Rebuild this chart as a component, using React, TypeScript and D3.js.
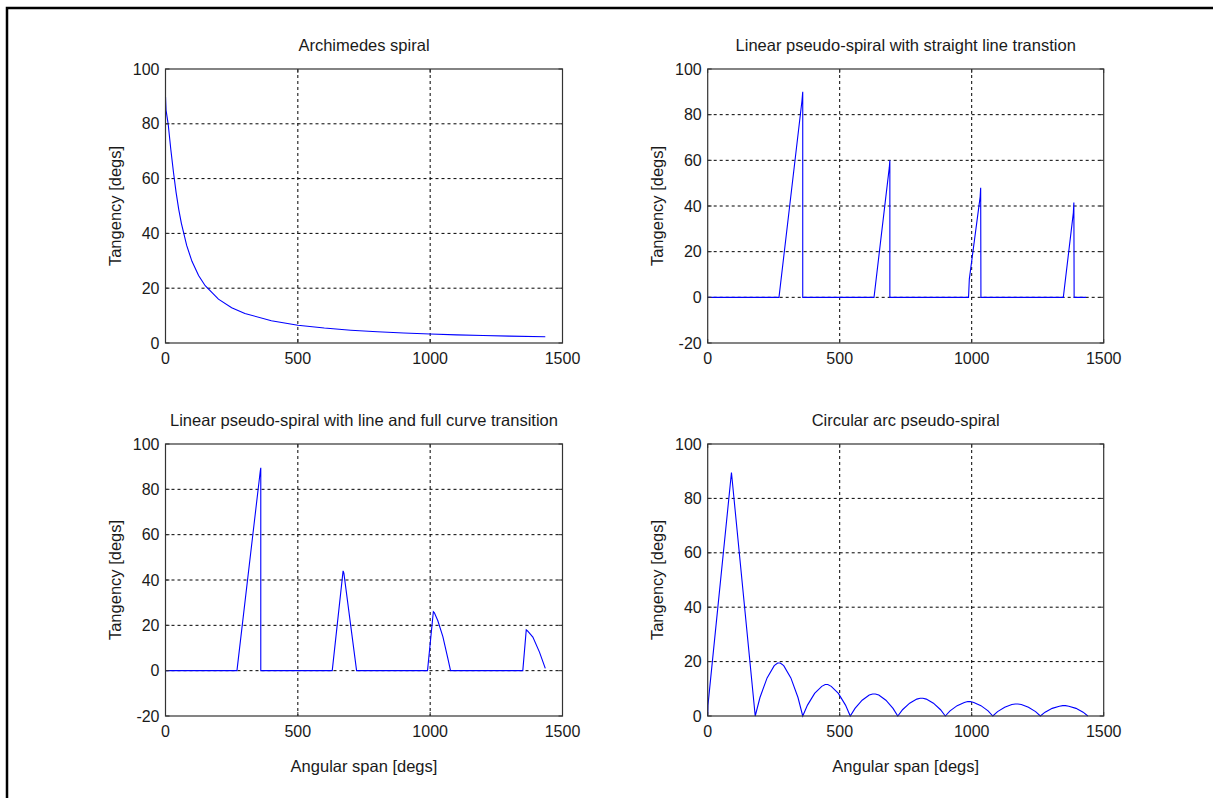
import React from "react";
import * as d3 from "d3";

// ---------- data ----------
const xTicks = [0, 500, 1000, 1500];
const yTicksPos = [0, 20, 40, 60, 80, 100];
const yTicksNeg = [-20, 0, 20, 40, 60, 80, 100];

const titles = [
  "Archimedes spiral",
  "Linear pseudo-spiral with straight line transtion",
  "Linear pseudo-spiral with line and full curve transition",
  "Circular arc pseudo-spiral",
];
const yLabel = "Tangency [degs]";
const xLabel = "Angular span [degs]";

const archimedes: [number, number][] = [
  [0, 90], [2, 85], [10, 80], [20, 70.7], [30, 62.4], [40, 55], [50, 48.8], [60, 43.7],
  [80, 35.6], [100, 29.8], [125, 24.6], [150, 20.9], [200, 16], [250, 12.9],
  [300, 10.8], [400, 8.1], [500, 6.5], [600, 5.45], [700, 4.68], [800, 4.09],
  [900, 3.64], [1000, 3.28], [1100, 2.98], [1200, 2.73], [1300, 2.52], [1435, 2.3],
];

const straightTransition: [number, number][] = [
  [0, 0], [270, 0], [357, 86], [360, 90], [360, 0],
  [630, 0], [688, 57], [690, 60], [690, 0],
  [988, 0], [991, 8], [1032, 44], [1034, 48], [1035, 0],
  [1347, 0], [1385, 37], [1387, 41.5], [1388, 0], [1433, 0],
];

const curveTransition: [number, number][] = [
  [0, 0], [270, 0], [358, 88], [360, 89.5], [360, 0],
  [630, 0], [671, 44], [674, 43], [722, 0],
  [990, 0], [1012, 26], [1016, 25.5], [1029, 22], [1048, 15], [1067, 5.3], [1077, 0],
  [1350, 0], [1363, 18], [1368, 17.5], [1388, 14.8], [1413, 8.2], [1435, 1],
];

const circularArc: [number, number][] = [
  [0, 0], [1, 4], [90, 89.5], [180, 0],
  [198, 6.8], [225, 14], [252, 18.5], [265, 19.5], [275, 19.5], [288, 18.5], [315, 14], [342, 6.8], [360, 0],
  [378, 4], [405, 8.3], [432, 10.9], [445, 11.6], [455, 11.6], [468, 10.9], [495, 8.3], [522, 4], [540, 0],
  [558, 2.8], [585, 5.8], [612, 7.7], [625, 8.1], [635, 8.1], [648, 7.7], [675, 5.8], [702, 2.8], [720, 0],
  [738, 2.3], [765, 4.7], [792, 6.2], [805, 6.5], [815, 6.5], [828, 6.2], [855, 4.7], [882, 2.3], [900, 0],
  [918, 1.9], [945, 3.8], [972, 5.0], [985, 5.3], [995, 5.3], [1008, 5.0], [1035, 3.8], [1062, 1.9], [1080, 0],
  [1098, 1.6], [1125, 3.2], [1152, 4.2], [1165, 4.4], [1175, 4.4], [1188, 4.2], [1215, 3.2], [1242, 1.6], [1260, 0],
  [1278, 1.4], [1305, 2.8], [1332, 3.6], [1345, 3.8], [1355, 3.8], [1368, 3.6], [1395, 2.8], [1422, 1.4], [1440, 0],
];

// ---------- layout ----------
const W = 1213;
const H = 798;
const FONT = "'Liberation Sans', Arial, Helvetica, sans-serif";

type PanelSpec = {
  title: string;
  data: [number, number][];
  yDomain: [number, number];
  yTicks: number[];
  left: number;
  top: number;
  width: number;
  height: number;
  showX: boolean;
};

const colL = 165.5, colR = 707.7, pw = 397;
const rowT = 69, rowB = 444, ph = 273;

const panels: PanelSpec[] = [
  { title: titles[0], data: archimedes, yDomain: [0, 100], yTicks: yTicksPos, left: colL, top: rowT, width: pw, height: 274, showX: false },
  { title: titles[1], data: straightTransition, yDomain: [-20, 100], yTicks: yTicksNeg, left: colR, top: rowT, width: pw - 1, height: 274, showX: false },
  { title: titles[2], data: curveTransition, yDomain: [-20, 100], yTicks: yTicksNeg, left: colL, top: rowB, width: pw, height: ph - 1, showX: true },
  { title: titles[3], data: circularArc, yDomain: [0, 100], yTicks: yTicksPos, left: colR, top: rowB, width: pw - 1, height: ph - 1, showX: true },
];

function Panel({ p }: { p: PanelSpec }) {
  const x = d3.scaleLinear().domain([0, 1500]).range([p.left, p.left + p.width]);
  const y = d3.scaleLinear().domain(p.yDomain).range([p.top + p.height, p.top]);
  const line = d3.line<[number, number]>().x((d) => x(d[0])).y((d) => y(d[1]));
  const x0 = p.left, x1 = p.left + p.width, y0 = p.top, y1 = p.top + p.height;
  const tickLen = 4;
  const gridStyle = { stroke: "#000", strokeWidth: 1, strokeDasharray: "3,3" };
  return (
    <g>
      {xTicks.slice(1, -1).map((t) => (
        <line key={"gx" + t} x1={x(t)} x2={x(t)} y1={y0} y2={y1} {...gridStyle} />
      ))}
      {p.yTicks.slice(1, -1).map((t) => (
        <line key={"gy" + t} x1={x0} x2={x1} y1={y(t)} y2={y(t)} {...gridStyle} />
      ))}
      <path d={line(p.data) || ""} fill="none" stroke="#0000ff" strokeWidth={1.1} />
      {xTicks.map((t) => (
        <g key={"tx" + t}>
          <line x1={x(t)} x2={x(t)} y1={y1} y2={y1 - tickLen} stroke="#333" />
          <line x1={x(t)} x2={x(t)} y1={y0} y2={y0 + tickLen} stroke="#333" />
        </g>
      ))}
      {p.yTicks.map((t) => (
        <g key={"ty" + t}>
          <line x1={x0} x2={x0 + tickLen} y1={y(t)} y2={y(t)} stroke="#333" />
          <line x1={x1} x2={x1 - tickLen} y1={y(t)} y2={y(t)} stroke="#333" />
        </g>
      ))}
      <rect x={x0} y={y0} width={p.width} height={p.height} fill="none" stroke="#333" strokeWidth={1.2} />
      {xTicks.map((t) => (
        <text key={"lx" + t} x={x(t)} y={y1 + 21} textAnchor="middle" fontSize={16} fill="#1a1a1a" fontFamily={FONT}>
          {t}
        </text>
      ))}
      {p.yTicks.map((t) => (
        <text key={"ly" + t} x={x0 - 6} y={y(t) + 5.5} textAnchor="end" fontSize={16} fill="#1a1a1a" fontFamily={FONT}>
          {t}
        </text>
      ))}
      <text x={(x0 + x1) / 2} y={y0 - 18} textAnchor="middle" fontSize={16.5} fill="#1a1a1a" fontFamily={FONT}>
        {p.title}
      </text>
      <text
        transform={`translate(${x0 - 45},${(y0 + y1) / 2}) rotate(-90)`}
        textAnchor="middle"
        fontSize={16.5}
        fill="#1a1a1a"
        fontFamily={FONT}
      >
        {yLabel}
      </text>
      {p.showX && (
        <text x={(x0 + x1) / 2} y={y1 + 56} textAnchor="middle" fontSize={16.5} fill="#1a1a1a" fontFamily={FONT}>
          {xLabel}
        </text>
      )}
    </g>
  );
}

export default function App() {
  return (
    <svg
      width={W}
      height={H}
      style={{ position: "absolute", left: 0, top: 0, background: "#fff", overflow: "hidden" }}
    >
      <rect x={0} y={0} width={W} height={H} fill="#fff" />
      <path d={`M7,${H + 10} V8 H${W + 10}`} fill="none" stroke="#000" strokeWidth={2.5} />
      {panels.map((p, i) => (
        <Panel key={i} p={p} />
      ))}
    </svg>
  );
}
